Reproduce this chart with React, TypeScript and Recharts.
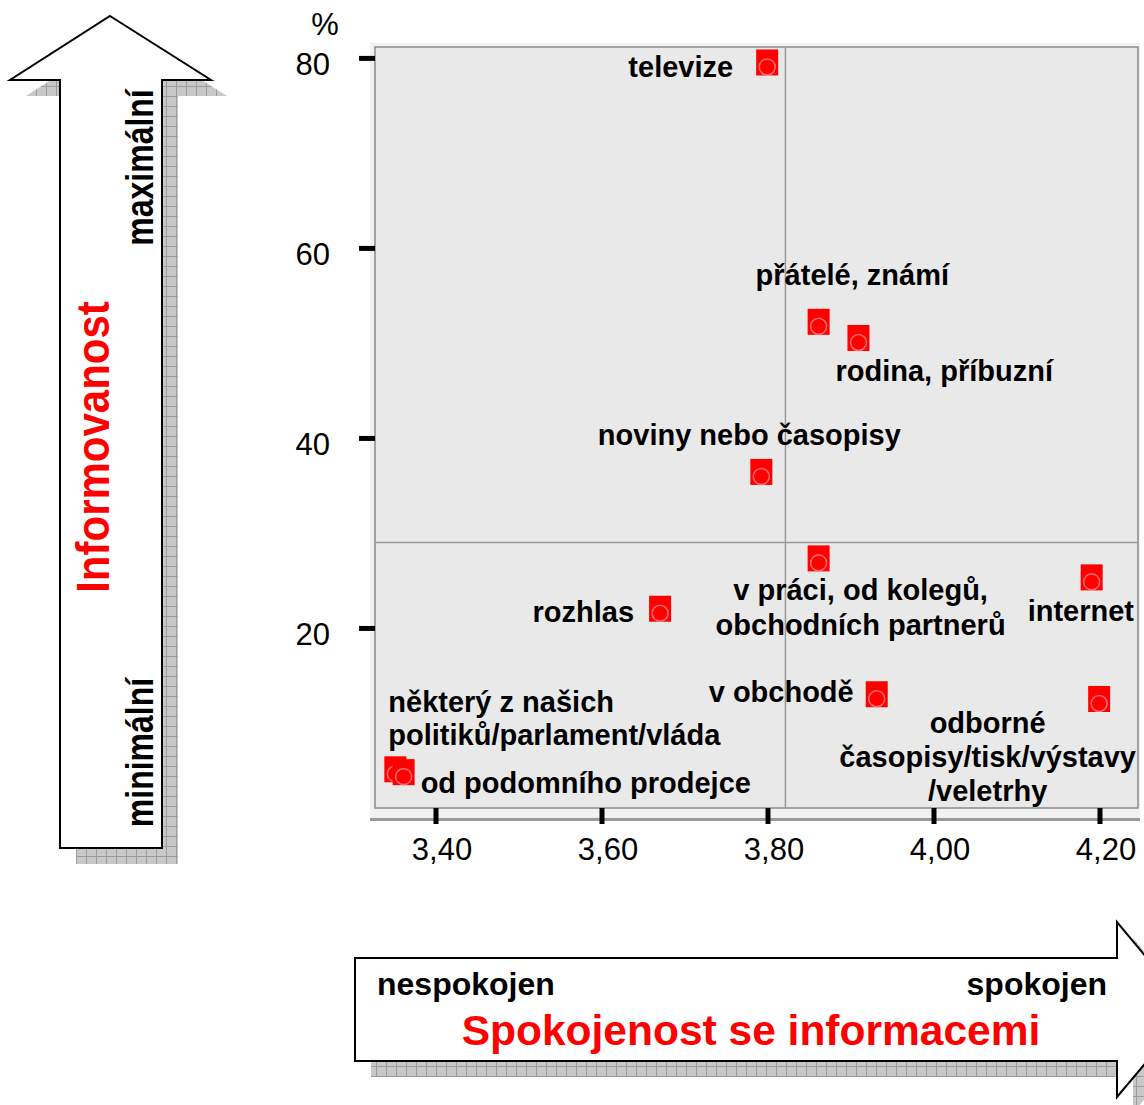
import React from 'react';
import { ScatterChart, Scatter, XAxis, YAxis, ReferenceLine, ReferenceArea } from 'recharts';

// ---------- data ----------
const categories = [
  'televize',
  'přátelé, známí',
  'rodina, příbuzní',
  'noviny nebo časopisy',
  'v práci, od kolegů,\nobchodních partnerů',
  'internet',
  'rozhlas',
  'v obchodě',
  'odborné\nčasopisy/tisk/výstavy\n/veletrhy',
  'některý z našich\npolitiků/parlament/vláda',
  'od podomního prodejce',
];
// Spokojenost se informacemi (x)
const satisfaction = [3.799, 3.861, 3.909, 3.792, 3.861, 4.190, 3.670, 3.931, 4.199, 3.351, 3.361];
// Informovanost, % (y)
const awareness = [79.1, 51.8, 50.1, 36.0, 26.9, 24.9, 21.6, 12.6, 12.1, 4.7, 4.4];

const xTicks = [3.4, 3.6, 3.8, 4.0, 4.2];
const yTicks = [20, 40, 60, 80];
const xDomain: [number, number] = [3.3265, 4.2458];
const yDomain: [number, number] = [1.1, 81.2];
const xSplit = 3.821;
const ySplit = 29.05;

const yUnit = '%';
const yTitle = 'Informovanost';
const yLow = 'minimální';
const yHigh = 'maximální';
const xTitle = 'Spokojenost se informacemi';
const xLow = 'nespokojen';
const xHigh = 'spokojen';

// ---------- label layout (styling only) ----------
type Lay = { anchor: 'start' | 'middle' | 'end'; dx: number; dy: number; lh: number };
const labelLayout: Lay[] = [
  { anchor: 'end', dx: -34, dy: 10, lh: 34 },
  { anchor: 'start', dx: -63, dy: -41, lh: 34 },
  { anchor: 'start', dx: -23, dy: 39, lh: 34 },
  { anchor: 'middle', dx: -12, dy: -31, lh: 34 },
  { anchor: 'middle', dx: 42, dy: 37, lh: 35 },
  { anchor: 'start', dx: -64, dy: 39, lh: 34 },
  { anchor: 'end', dx: -26, dy: 8.5, lh: 34 },
  { anchor: 'end', dx: -23, dy: 3, lh: 34 },
  { anchor: 'middle', dx: -111.5, dy: 30, lh: 34 },
  { anchor: 'start', dx: -7, dy: -62, lh: 33.5 },
  { anchor: 'start', dx: 17, dy: 16, lh: 34 },
];

const data = categories.map((name, i) => ({ name, idx: i, x: satisfaction[i], y: awareness[i] }));

const FONT = '"Liberation Sans", Arial, Helvetica, sans-serif';

const Marker = (props: any) => {
  const { cx, cy, payload } = props;
  if (cx == null || cy == null) return null;
  const lay = labelLayout[payload.idx];
  const lines = String(payload.name).split('\n');
  return (
    <g>
      <rect x={cx - 11} y={cy - 17.5} width={22} height={26} fill="#ff0000" />
      <circle cx={cx} cy={cy} r={8} fill="none" stroke="rgba(255,140,140,0.75)" strokeWidth={1.6} />
      <text
        textAnchor={lay.anchor}
        fontFamily={FONT}
        fontWeight="bold"
        fontSize={29}
        fill="#000"
      >
        {lines.map((l, i) => (
          <tspan key={i} x={cx + lay.dx} y={cy + lay.dy + i * lay.lh}>
            {l}
          </tspan>
        ))}
      </text>
    </g>
  );
};

const PlotFrame = (p: any) => {
  const { x, y, width, height } = p;
  return (
    <g>
      <rect x={x - 5} y={y - 4} width={width + 7} height={height + 15} fill="#f1f1f1" />
      <line x1={x - 5} x2={x + width + 2} y1={y + height + 11.5} y2={y + height + 11.5} stroke="#9a9a9a" strokeWidth={3} />
      <rect x={x} y={y} width={width} height={height} fill="#e9e9e9" stroke="#8a8a8a" strokeWidth={1.5} />
    </g>
  );
};

const XTick = (props: any) => {
  const { x, y, payload } = props;
  return (
    <text x={x + 6} y={y + 32} textAnchor="middle" fontFamily={FONT} fontSize={31} fill="#000">
      {Number(payload.value).toFixed(2).replace('.', ',')}
    </text>
  );
};

const YTick = (props: any) => {
  const { x, y, payload } = props;
  return (
    <text x={x} y={y + 17} textAnchor="end" fontFamily={FONT} fontSize={31} fill="#000">
      {payload.value}
    </text>
  );
};

const Decorations = () => {
  const leftArrow = '110,16 211,80 162,80 162,848 60,848 60,80 10,80';
  const bottomArrow = '355,958 1117,958 1117,922 1190,1010 1117,1097 1117,1061 355,1061';
  return (
    <svg width={1144} height={1105} style={{ position: 'absolute', left: 0, top: 0 }}>
      <defs>
        <pattern id="hatch" width="10" height="10" patternUnits="userSpaceOnUse">
          <rect width="10" height="10" fill="#c8c8c8" />
          <path d="M0 0.5H10M0.5 0V10" stroke="#9c9c9c" strokeWidth="1" />
        </pattern>
      </defs>
      {/* left arrow */}
      <polygon points={leftArrow} fill="url(#hatch)" transform="translate(16,16)" />
      <polygon points={leftArrow} fill="#fff" stroke="#000" strokeWidth={2} />
      <text transform="translate(153,167.5) rotate(-90) scale(1,1.2)" textAnchor="middle" fontFamily={FONT} fontWeight="bold" fontSize={32} fill="#000">{yHigh}</text>
      <text transform="translate(153,752.5) rotate(-90) scale(1,1.2)" textAnchor="middle" fontFamily={FONT} fontWeight="bold" fontSize={32} fill="#000">{yLow}</text>
      <text transform="translate(109,447) rotate(-90) scale(1,1.08)" textAnchor="middle" fontFamily={FONT} fontWeight="bold" fontSize={42} fill="#ff0000">{yTitle}</text>
      {/* bottom arrow */}
      <polygon points={bottomArrow} fill="url(#hatch)" transform="translate(16,16)" />
      <polygon points={bottomArrow} fill="#fff" stroke="#000" strokeWidth={2} />
      <text x={377} y={995} textAnchor="start" fontFamily={FONT} fontWeight="bold" fontSize={32} fill="#000">{xLow}</text>
      <text x={1107} y={995} textAnchor="end" fontFamily={FONT} fontWeight="bold" fontSize={32} fill="#000">{xHigh}</text>
      <text x={751} y={1045} textAnchor="middle" fontFamily={FONT} fontWeight="bold" fontSize={42.5} fill="#ff0000">{xTitle}</text>
      {/* unit */}
      <text x={325} y={35} textAnchor="middle" fontFamily={FONT} fontSize={31} fill="#000">{yUnit}</text>
    </svg>
  );
};

export default function App() {
  return (
    <div style={{ position: 'absolute', left: 0, top: 0, width: 1144, height: 1105, overflow: 'hidden', background: '#fff' }}>
      <Decorations />
      <div style={{ position: 'absolute', left: 0, top: 0 }}>
        <ScatterChart width={1144} height={1105} margin={{ top: 47, right: 6, bottom: 237, left: 295 }}>
          <XAxis
            type="number"
            dataKey="x"
            domain={xDomain}
            ticks={xTicks}
            allowDataOverflow
            axisLine={false}
            tickLine={{ stroke: '#000', strokeWidth: 5 }}
            tickSize={16}
            tickMargin={4}
            height={60}
            tick={<XTick />}
            interval={0}
          />
          <YAxis
            type="number"
            dataKey="y"
            domain={yDomain}
            ticks={yTicks}
            allowDataOverflow
            axisLine={false}
            tickLine={{ stroke: '#000', strokeWidth: 5 }}
            tickSize={16}
            tickMargin={29}
            width={80}
            tick={<YTick />}
            interval={0}
          />
          <ReferenceArea
            x1={xDomain[0]}
            x2={xDomain[1]}
            y1={yDomain[0]}
            y2={yDomain[1]}
            shape={<PlotFrame />}
            ifOverflow="visible"
          />
          <ReferenceLine x={xSplit} stroke="#9a9a9a" strokeWidth={1.5} />
          <ReferenceLine y={ySplit} stroke="#9a9a9a" strokeWidth={1.5} />
          <Scatter data={data} shape={<Marker />} isAnimationActive={false} />
        </ScatterChart>
      </div>
    </div>
  );
}
